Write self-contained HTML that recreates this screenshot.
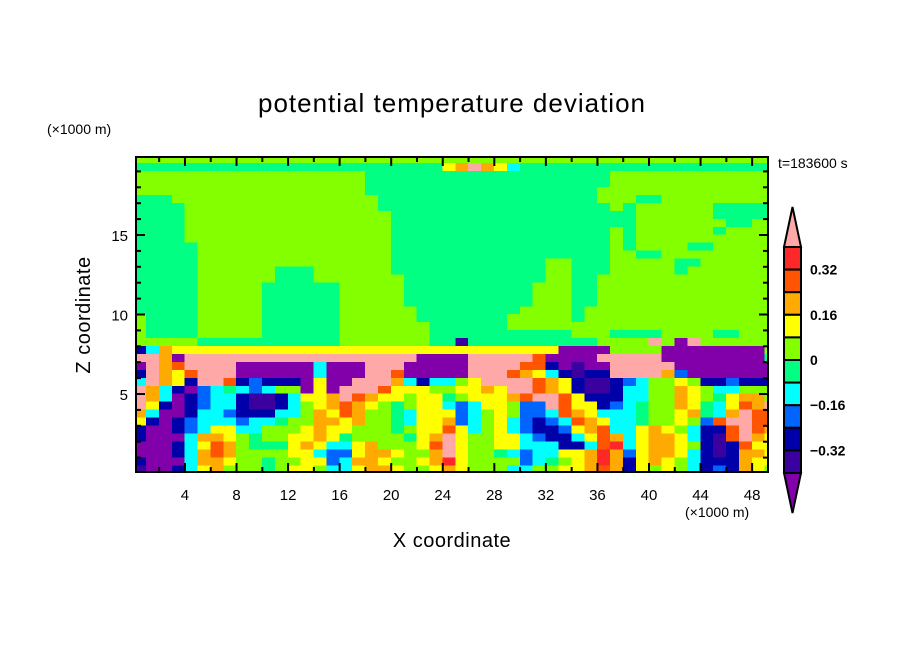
<!DOCTYPE html>
<html>
<head>
<meta charset="utf-8">
<style>
  html,body{margin:0;padding:0;background:#fff;}
  svg{display:block;font-family:"Liberation Sans",sans-serif;}
</style>
</head>
<body>
<svg id="chart" width="904" height="654" viewBox="0 0 904 654" xmlns="http://www.w3.org/2000/svg">
  <defs><clipPath id="plotclip"><rect x="136" y="157" width="632" height="315"/></clipPath></defs>
  <text x="452" y="112" font-size="26" text-anchor="middle" letter-spacing="1">potential temperature deviation</text>
  <text x="47" y="134" font-size="14">(×1000 m)</text>
  <text x="778" y="168" font-size="14">t=183600 s</text>
  <g id="cells" clip-path="url(#plotclip)" shape-rendering="crispEdges"></g>
  <g id="axes"></g>
  <rect x="136" y="157" width="632" height="315" fill="none" stroke="#000" stroke-width="2"/>
  <text x="452" y="547" font-size="20" text-anchor="middle" letter-spacing="0.5">X coordinate</text>
  <text x="685" y="517" font-size="14">(×1000 m)</text>
  <text transform="translate(90,315) rotate(-90)" font-size="20" text-anchor="middle" letter-spacing="0.5">Z coordinate</text>
  <g id="colorbar"></g>
</svg>
<script>
// contour levels and colours (index = level code)
const levelCodes = "PINBCGLYORDK";
const levelValues = [-0.44,-0.36,-0.28,-0.20,-0.12,-0.04,0.04,0.12,0.20,0.28,0.36,0.44];
const contourLevels = [-0.4,-0.32,-0.24,-0.16,-0.08,0,0.08,0.16,0.24,0.32,0.4];
const levelColors = ["#8200AA","#3A00A0","#0000A8","#0064FF","#00FFFF","#00FF82","#84FF00","#FFFF00","#FFAA00","#FF5500","#FF2828","#FFA8A8"];
const xTicks = [4,8,12,16,20,24,28,32,36,40,44,48];
const yTicks = [5,10,15];
const cbLabels = ["0.32","0.16","0","\u22120.16","\u22120.32"];
const cbLabelValues = [0.32,0.16,0,-0.16,-0.32];
// field, rows from top (z 19.5-20) to bottom (z 0-0.5), 50 columns of 1 km
const fieldRows = [
"LLLLLLLLLL LLLLLLLLLL LLLLLLLLLL LLLLLLLLLL LLLLLLLLLL",
"GGGGGGGGGG GGGGGGGGGG GGGGYOKOYC GGGGGGGGGG GGGGGGGGGG",
"LLLLLLLLLL LLLLLLLLGG GGGGGGGGGG GGGGGGGLLL LLLLLLLLLL",
"LLLLLLLLLL LLLLLLLLGG GGGGGGGGGG GGGGGGGLLL LLLLLLLLLL",
"LLLLLLLLLL LLLLLLLLGG GGGGGGGGGG GGGGGGLLLL LLLLLLLLLL",
"GGGLLLLLLL LLLLLLLLLG GGGGGGGGGG GGGGGGLLLG GLLLLLLLLL",
"GGGGLLLLLL LLLLLLLLLG GGGGGGGGGG GGGGGGGLGL LLLLLGGGGG",
"GGGGLLLLLL LLLLLLLLLL GGGGGGGGGG GGGGGGGGGL LLLLLGGGGG",
"GGGGLLLLLL LLLLLLLLLL GGGGGGGGGG GGGGGGGGGL LLLLLLGGLL",
"GGGGLLLLLL LLLLLLLLLL GGGGGGGGGG GGGGGGGLGL LLLLLGLLLL",
"GGGGLLLLLL LLLLLLLLLL GGGGGGGGGG GGGGGGGLGL LLLLLLLLLL",
"GGGGGLLLLL LLLLLLLLLL GGGGGGGGGG GGGGGGGLGL LLLGGLLLLL",
"GGGGGLLLLL LLLLLLLLLL GGGGGGGGGG GGGGGGGLLG GLLLLLLLLL",
"GGGGGLLLLL LLLLLLLLLL GGGGGGGGGG GGLLGGGLLL LLGGLLLLLL",
"GGGGGLLLLL LGGGLLLLLL GGGGGGGGGG GGLLGGGLLL LLGLLLLLLL",
"GGGGGLLLLL LGGGLLLLLL LGGGGGGGGG GGLLGGLLLL LLLLLLLLLL",
"GGGGGLLLLL GGGGGGLLLL LGGGGGGGGG GLLLGGLLLL LLLLLLLLLL",
"GGGGGLLLLL GGGGGGLLLL LGGGGGGGGG GLLLGGLLLL LLLLLLLLLL",
"GGGGGLLLLL GGGGGGLLLL LGGGGGGGGG GLLLGGLLLL LLLLLLLLLL",
"GGGGGLLLLL GGGGGGLLLL LLGGGGGGGG LLLLGLLLLL LLLLLLLLLL",
"LGGGGLLLLL GGGGGGLLLL LLGGGGGGGL LLLLGLLLLL LLLLLLLLLL",
"LGGGGLLLLL GGGGGGLLLL LLLGGGGGGL LLLLLLLLLL LLLLLLLLLL",
"LGGGGLLLLL GGGGGGLLLL LLLGGGGGGG GGGGLLLGGG GLLLLGGLLL",
"LLLLLGGGGG GGGGGGLLLL LLLGGIGGGG GGGGGGLLLL KLPKLLLLLL",
"NCOYYYYYYY YYYYYYYYYY YYYYYYYYYY YYYPPPPLLL LPPPPPPPPL",
"KKOPKKKKKK KKKKKKKKKK KKPPPPKKKK KRPPPPKKKK KPPPPPPPPG",
"PKORKKKKPP PPPPCPPPKK KPPPPPKKKK RRNPIPPKKK KKPPPPPPPP",
"NKOYRKKKPP PPPPCPPPKK RPPPPPKKKR OYCNINNKKK KOBPPPPPPP",
"CKOYNKKRNB NNNPYPPKKK OCNCCLYKKK KROYNIINBC LLYLNNBNNN",
"KOCNPBCGCB CLLPYPKKKR YYYLLYYOYK KROYNIINCC LLOYLCCLLL",
"KOCPNBCCNI INCYYOKROY YLYYGLYYYO RKKRYNNNCC LLOYLGYOOL",
"KYNPNBCCNI INCLYOROYL GLYYCBCYYL BBKRYYNBCG LLOYGCYROK",
"OCPPNCCBNN NCCLOYROLL GCYYYBCLYL BBCROYCCCG LLYOGCOKRR",
"YNPNBCCCBC CGLLOOYOLL GCYYOBCLYC BNBCROYCCG LLYLBRKKRR",
"NPPNBCYYCC LLLYOYYLLL GLYYRYCLYC BNNBYORCCY OYLCNNRKRO",
"NPPPCOOYLG LLYYOYGLLL LGYOKYLLYY CBNNCYROCY OOYCNIRKOY",
"PPPNCYROLG GGYOYCCYOL LLYRKYLLYY CCCNNCRDCY OOYLNINRYY",
"PPPNCOROLL LLYYCBBYOO YLLOKYLLGC BCCYYODOBY OOYCNINOOY",
"NPPPCOOYLL GLLYYBCOOY LLYODYLLLL BCGLYODONY OYLCNNNOYY",
"IPPNCYOLLL GLYYLCCYOO YLLYOYLLLC CLLYYORONY LYLCNBNOYL"
];
const xMin = 0, zTop = 19.9, dz = 0.5;

const NS = "http://www.w3.org/2000/svg";
function xs(v){ return 133.4 + 12.89 * v; }
function zs(v){ return 473.5 - 15.9 * v; }
function colorFor(val){
  let k = 0;
  while (k < contourLevels.length && val >= contourLevels[k]) k++;
  return levelColors[k];
}
function mk(tag, attrs, parent){
  const e = document.createElementNS(NS, tag);
  for (const a in attrs) e.setAttribute(a, attrs[a]);
  parent.appendChild(e);
  return e;
}

const cells = document.getElementById('cells');
const nRows = fieldRows.length;
fieldRows.forEach((rowStr, r) => {
  const codes = rowStr.replace(/ /g, '');
  const j = nRows - 1 - r;
  const z0 = j * dz, z1 = Math.min(j * dz + dz, zTop + 0.2);
  for (let i = 0; i < codes.length; i++) {
    const val = levelValues[levelCodes.indexOf(codes[i])];
    const x0 = xs(xMin + i), x1 = xs(xMin + i + 1);
    const rc = mk('rect', {x: x0 - 0.3, y: zs(z1) - 0.3, width: x1 - x0 + 0.6, height: zs(z0) - zs(z1) + 0.6, fill: colorFor(val)}, cells);
    
    
  }
});

const axes = document.getElementById('axes');
for (let v = 2; v <= 48; v += 2) {
  const major = (v % 4 === 0);
  const L = major ? 9 : 5;
  const x = xs(v);
  const t1 = mk('line', {x1: x, x2: x, y1: 472, y2: 472 - L, stroke: '#000', 'stroke-width': 2}, axes);
  
  
  const t2 = mk('line', {x1: x, x2: x, y1: 157, y2: 157 + L, stroke: '#000', 'stroke-width': 2}, axes);
  
  
}
xTicks.forEach(v => {
  const t = mk('text', {x: xs(v), y: 500, 'font-size': 15, 'text-anchor': 'middle'}, axes);
  t.textContent = String(v);
  
  
});
for (let v = 1; v <= 19; v++) {
  const major = (v % 5 === 0);
  const L = major ? 9 : 5;
  const y = zs(v);
  const t1 = mk('line', {x1: 136, x2: 136 + L, y1: y, y2: y, stroke: '#000', 'stroke-width': 2}, axes);
  
  
  const t2 = mk('line', {x1: 768, x2: 768 - L, y1: y, y2: y, stroke: '#000', 'stroke-width': 2}, axes);
  
  
}
yTicks.forEach(v => {
  const t = mk('text', {x: 128, y: zs(v) + 6, 'font-size': 15, 'text-anchor': 'end'}, axes);
  t.textContent = String(v);
  
  
});

const cb = document.getElementById('colorbar');
const cbX = 784, cbW = 17, cbTop = 247, cbBot = 473;
const boxH = (cbBot - cbTop) / (contourLevels.length - 1);
function cbY(val){ return cbTop + (contourLevels[contourLevels.length - 1] - val) / 0.08 * boxH; }
const up = mk('polygon', {points: `${cbX},${cbTop} ${cbX + cbW},${cbTop} ${cbX + cbW / 2},207`, fill: levelColors[11], stroke: '#000', 'stroke-width': 2}, cb);


const dn = mk('polygon', {points: `${cbX},${cbBot} ${cbX + cbW},${cbBot} ${cbX + cbW / 2},513`, fill: levelColors[0], stroke: '#000', 'stroke-width': 2}, cb);


for (let k = 1; k < contourLevels.length; k++) {
  const hi = contourLevels[contourLevels.length - k];
  const b = mk('rect', {x: cbX, y: cbY(hi), width: cbW, height: boxH, fill: levelColors[contourLevels.length - k], stroke: '#000', 'stroke-width': 2}, cb);
  
  
}
cbLabels.forEach((lab, idx) => {
  const t = mk('text', {x: 810, y: cbY(cbLabelValues[idx]) + 5, 'font-size': 14, 'font-weight': 'bold'}, cb);
  t.textContent = lab;
  
  
});
</script>
</body>
</html>
